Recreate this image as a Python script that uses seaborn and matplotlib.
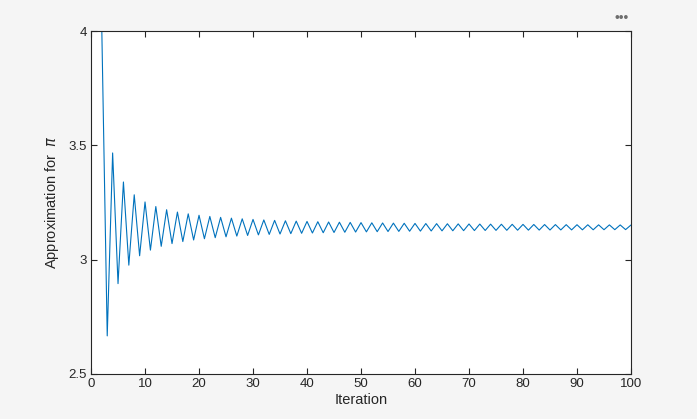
import matplotlib
import seaborn as sns
import pandas as pd

matplotlib.use("Agg")
import matplotlib.pyplot as plt

# iteration number and the running approximation of pi
iteration = list(range(1, 101))
approx = [
    4.0, 4.0, 2.6667, 3.4667, 2.8952, 3.3397, 2.9760, 3.2837, 3.0171, 3.2524,
    3.0418, 3.2323, 3.0584, 3.2184, 3.0703, 3.2082, 3.0792, 3.2004, 3.0861, 3.1942,
    3.0916, 3.1891, 3.0962, 3.1850, 3.1000, 3.1815, 3.1032, 3.1786, 3.1059, 3.1760,
    3.1083, 3.1738, 3.1104, 3.1719, 3.1122, 3.1701, 3.1138, 3.1686, 3.1153, 3.1672,
    3.1166, 3.1660, 3.1178, 3.1648, 3.1189, 3.1638, 3.1199, 3.1629, 3.1208, 3.1620,
    3.1216, 3.1612, 3.1224, 3.1605, 3.1231, 3.1598, 3.1237, 3.1591, 3.1244, 3.1585,
    3.1249, 3.1580, 3.1255, 3.1575, 3.1260, 3.1570, 3.1264, 3.1565, 3.1269, 3.1561,
    3.1273, 3.1557, 3.1277, 3.1553, 3.1281, 3.1549, 3.1284, 3.1546, 3.1288, 3.1543,
    3.1291, 3.1539, 3.1294, 3.1536, 3.1297, 3.1534, 3.1300, 3.1531, 3.1302, 3.1528,
    3.1305, 3.1526, 3.1307, 3.1523, 3.1310, 3.1521, 3.1312, 3.1519, 3.1314, 3.1517,
]
x_ticks = [0, 10, 20, 30, 40, 50, 60, 70, 80, 90, 100]
y_ticks = [2.5, 3, 3.5, 4]
y_tick_labels = ["2.5", "3", "3.5", "4"]

df = pd.DataFrame({"Iteration": iteration, "Approx": approx})

sns.set_theme(style="ticks")
plt.rcParams["font.family"] = ["Liberation Sans", "DejaVu Sans"]
plt.rcParams["axes.edgecolor"] = "#262626"
plt.rcParams["xtick.color"] = "#262626"
plt.rcParams["ytick.color"] = "#262626"
plt.rcParams["axes.labelcolor"] = "#262626"

fig = plt.figure(figsize=(6.97, 4.19), dpi=100, facecolor="#f5f5f5")
ax = fig.add_axes([0.1306, 0.1074, 0.7747, 0.8186])
ax.set_facecolor("white")

sns.lineplot(data=df, x="Iteration", y="Approx", ax=ax, color="#0072BD", linewidth=0.8)

ax.set_xlim(0, 100)
ax.set_ylim(2.5, 4)
ax.set_xticks(x_ticks)
ax.set_yticks(y_ticks)
ax.set_yticklabels(y_tick_labels)
ax.tick_params(direction="in", length=4, width=0.8, labelsize=9.5,
               top=True, right=True, pad=3)
for s in ax.spines.values():
    s.set_linewidth(0.8)
    s.set_visible(True)

ax.set_xlabel("Iteration", fontsize=10.5, labelpad=2)
ax.set_ylabel("Approximation for  $\\pi$", fontsize=10.5, labelpad=0)
ax.yaxis.set_label_coords(-0.056, 0.5)

# toolbar ellipsis at the top right
fig.text(0.892, 0.957, "\u2022\u2022\u2022", fontsize=10, color="#6e6e6e",
         ha="center", va="center")

fig.savefig("out.png", dpi=100, facecolor=fig.get_facecolor())
